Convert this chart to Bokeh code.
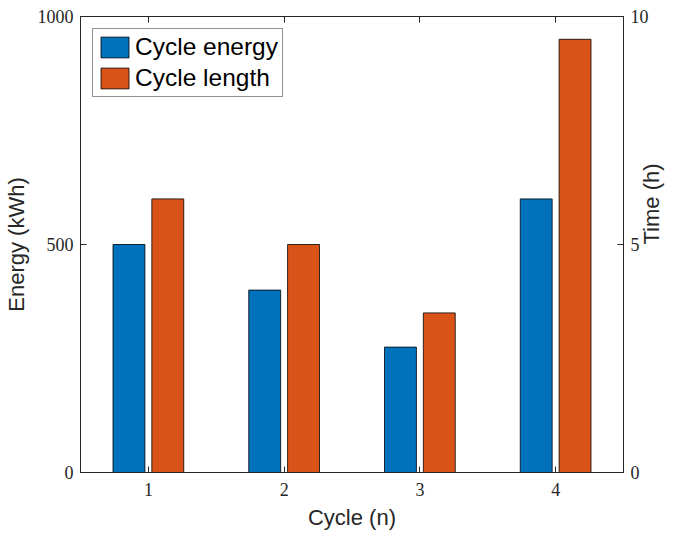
import math
from bokeh.plotting import figure
from bokeh.models import (Range1d, LinearAxis, FixedTicker, Legend, LegendItem,
                          ColumnDataSource)
from bokeh.transform import dodge
from bokeh.embed import file_html
from bokeh.resources import INLINE

# ---- data ----
cycles = [1, 2, 3, 4]
energy_kwh = [500, 400, 275, 600]
time_h = [6, 5, 3.5, 9.5]
x_ticks = [1, 2, 3, 4]
energy_ticks = [0, 500, 1000]
time_ticks = [0, 5, 10]
series_names = ["Cycle energy", "Cycle length"]
colors = ["#0072BD", "#D95319"]

AX = "#262626"
TICK_FONT = "Liberation Serif"
LABEL_FONT = "Liberation Sans"

src = ColumnDataSource(dict(cycle=cycles, energy=energy_kwh, time=time_h))

p = figure(width=680, height=541, output_backend="svg", toolbar_location=None,
           x_range=Range1d(0.5, 4.5), y_range=Range1d(0, 1000),
           min_border_left=80, min_border_right=57, min_border_top=16,
           min_border_bottom=69)
p.extra_y_ranges = {"time": Range1d(0, 10)}
p.xgrid.visible = False
p.ygrid.visible = False
p.outline_line_color = AX
p.outline_line_width = 1
p.background_fill_color = "white"
p.border_fill_color = "white"


def style_axis(ax, standoff):
    ax.axis_line_color = AX
    ax.major_tick_line_color = AX
    ax.major_tick_in = 6
    ax.major_tick_out = 0
    ax.minor_tick_line_color = None
    ax.major_label_text_font = TICK_FONT
    ax.major_label_text_font_size = "18px"
    ax.major_label_text_color = AX
    ax.major_label_standoff = standoff
    ax.axis_label_text_font = LABEL_FONT
    ax.axis_label_text_font_size = "22px"
    ax.axis_label_text_font_style = "normal"
    ax.axis_label_text_color = AX


xax = p.xaxis[0]
xax.ticker = FixedTicker(ticks=x_ticks)
xax.axis_label = "Cycle (n)"
style_axis(xax, 10)
xax.axis_label_standoff = 6

yax = p.yaxis[0]
yax.ticker = FixedTicker(ticks=energy_ticks)
yax.axis_label = "Energy (kWh)"
style_axis(yax, 7)
yax.axis_label_standoff = 6

rax = LinearAxis(y_range_name="time", ticker=FixedTicker(ticks=time_ticks),
                 axis_label="Time (h)")
style_axis(rax, 7)
rax.axis_label_standoff = 0
rax.axis_label_orientation = math.pi / 2
p.add_layout(rax, "right")

tax = LinearAxis(ticker=FixedTicker(ticks=x_ticks))
style_axis(tax, 0)
tax.major_label_text_font_size = "0px"
tax.major_label_text_alpha = 0
p.add_layout(tax, "above")

r1 = p.vbar(x=dodge("cycle", -0.143), top="energy", width=0.235, source=src,
            fill_color=colors[0], line_color="black", line_width=0.8)
r2 = p.vbar(x=dodge("cycle", 0.143), top="time", width=0.235, source=src,
            y_range_name="time", fill_color=colors[1], line_color="black",
            line_width=0.8)

legend = Legend(items=[LegendItem(label=series_names[0], renderers=[r1]),
                       LegendItem(label=series_names[1], renderers=[r2])],
                location="top_left", margin=12, padding=4, spacing=3,
                glyph_width=35, glyph_height=26, label_standoff=3,
                label_text_font=LABEL_FONT, label_text_font_size="24.5px",
                label_text_color="black", border_line_color=AX,
                border_line_width=1, background_fill_color="white",
                background_fill_alpha=1)
p.add_layout(legend)

open("out.html", "w").write(file_html(p, INLINE))
